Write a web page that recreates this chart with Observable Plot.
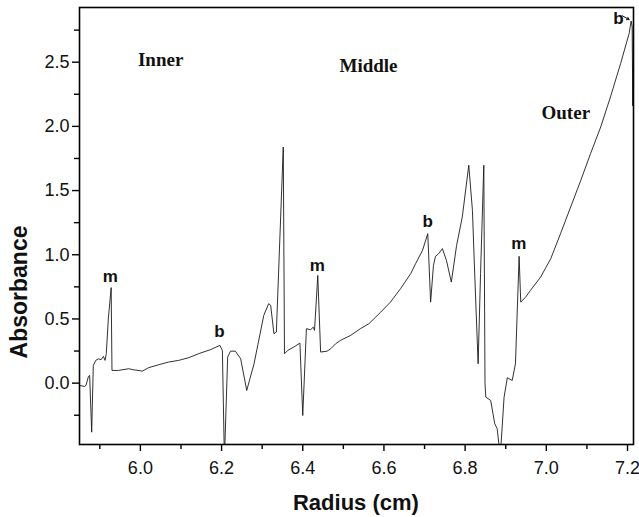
<!DOCTYPE html>
<html><head><meta charset="utf-8">
<script src="https://cdn.jsdelivr.net/npm/d3@7"></script>
<script src="https://cdn.jsdelivr.net/npm/@observablehq/plot@0.6"></script>
<style>body{margin:0;background:#fff}</style>
</head><body><div id="chart"></div>
<script>
// Radius (cm) and absorbance
const radius = [5.850,5.862,5.866,5.872,5.875,5.880,5.884,5.890,5.897,5.903,5.909,5.913,5.916,5.921,5.928,5.930,5.946,5.971,5.983,6.005,6.020,6.045,6.069,6.094,6.119,6.143,6.172,6.196,6.202,6.207,6.215,6.222,6.234,6.247,6.262,6.280,6.304,6.316,6.321,6.329,6.335,6.352,6.355,6.363,6.378,6.393,6.400,6.409,6.419,6.426,6.429,6.437,6.444,6.460,6.469,6.481,6.493,6.518,6.542,6.563,6.592,6.616,6.641,6.666,6.678,6.695,6.708,6.715,6.722,6.727,6.735,6.744,6.754,6.766,6.779,6.793,6.809,6.818,6.823,6.832,6.838,6.846,6.849,6.851,6.863,6.873,6.879,6.883,6.887,6.896,6.904,6.916,6.924,6.933,6.937,6.949,6.961,6.986,7.011,7.035,7.060,7.085,7.109,7.134,7.158,7.183,7.204,7.209,7.2115,7.213,7.2145,7.217];
const absorbance = [-0.018,-0.026,-0.018,0.052,0.060,-0.382,0.138,0.177,0.190,0.182,0.208,0.177,0.229,0.50,0.744,0.099,0.099,0.112,0.104,0.094,0.120,0.143,0.164,0.177,0.198,0.229,0.260,0.294,0.255,-0.60,0.203,0.249,0.249,0.190,-0.057,0.151,0.528,0.619,0.606,0.385,0.398,1.839,0.229,0.255,0.281,0.312,-0.252,0.424,0.416,0.436,0.411,0.839,0.242,0.249,0.268,0.307,0.333,0.372,0.424,0.463,0.553,0.631,0.736,0.853,0.931,1.034,1.164,0.631,0.917,0.988,1.009,1.048,0.956,0.787,1.073,1.294,1.697,1.346,0.904,0.151,0.853,1.697,-0.005,-0.109,-0.135,-0.316,-0.355,-0.472,-0.55,-0.109,0.042,0.021,0.151,0.988,0.631,0.670,0.723,0.826,0.970,1.164,1.372,1.580,1.788,1.995,2.229,2.489,2.723,2.821,2.775,2.160,2.520,2.550];

const regionLabels = ["Inner", "Middle", "Outer"];
const regionX = [6.050, 6.562, 7.048];
const regionY = [2.515, 2.468, 2.102];

const peakLabels = ["m", "b", "m", "b", "m", "b"];
const peakX = [5.926, 6.195, 6.436, 6.708, 6.932, 7.178];
const peakY = [0.832, 0.403, 0.917, 1.260, 1.089, 2.843];

const arrowFrom = [7.187, 2.862];
const arrowTo = [7.204, 2.832];

const xTicks = [6.0, 6.2, 6.4, 6.6, 6.8, 7.0, 7.2];
const xMinor = [5.9, 6.1, 6.3, 6.5, 6.7, 6.9, 7.1];
const yTicks = [0.0, 0.5, 1.0, 1.5, 2.0, 2.5];
const yMinor = [-0.25, 0.25, 0.75, 1.25, 1.75, 2.25, 2.75];
const xLabel = "Radius (cm)";
const yLabel = "Absorbance";
// axis-title anchor points, in data units
const xLabelPos = [6.531, -0.93];
const yLabelPos = [5.702, 0.71];

const trace = radius.map((x, i) => ({x, y: absorbance[i]}));
const regions = regionLabels.map((t, i) => ({t, x: regionX[i], y: regionY[i]}));
const peaks = peakLabels.map((t, i) => ({t, x: peakX[i], y: peakY[i]}));

const sans = "'Liberation Sans', Arial, sans-serif";
const serif = "'Liberation Serif', 'Times New Roman', serif";

const chart = Plot.plot({
  width: 639,
  height: 517,
  marginLeft: 79,
  marginRight: 6,
  marginTop: 7,
  marginBottom: 73,
  style: {background: "#fff", fontFamily: sans, color: "#111"},
  x: {domain: [5.85, 7.2148]},
  y: {domain: [-0.478, 2.926]},
  marks: [
    Plot.line(trace, {x: "x", y: "y", stroke: "#1a1a1a", strokeWidth: 0.9, clip: true}),
    Plot.frame({stroke: "#000", strokeWidth: 1.6}),
    Plot.axisX({ticks: xTicks, tickFormat: d3.format(".1f"), tickSize: 7, tickPadding: 10, fontSize: 18, label: null, stroke: "#000", strokeWidth: 1.4}),
    Plot.axisX({ticks: xMinor, tickSize: 5, text: null, label: null, stroke: "#000", strokeWidth: 1.4}),
    Plot.axisY({ticks: yTicks, tickFormat: d3.format(".1f"), tickSize: 7, tickPadding: 3, fontSize: 18, label: null, stroke: "#000", strokeWidth: 1.4}),
    Plot.axisY({ticks: yMinor, tickSize: 5, text: null, label: null, stroke: "#000", strokeWidth: 1.4}),
    Plot.text([yLabel], {x: () => yLabelPos[0], y: () => yLabelPos[1], text: d => d, rotate: -90, fontSize: 23, fontWeight: "bold", fontFamily: sans, fill: "#111"}),
    Plot.text([xLabel], {x: () => xLabelPos[0], y: () => xLabelPos[1], text: d => d, fontSize: 22, fontWeight: "bold", fontFamily: sans, fill: "#111"}),
    Plot.text(regions, {x: "x", y: "y", text: "t", fontSize: 19, fontWeight: "bold", fontFamily: serif, fill: "#111"}),
    Plot.text(peaks, {x: "x", y: "y", text: "t", fontSize: 17, fontWeight: "bold", fontFamily: sans, fill: "#111"}),
    Plot.arrow([{x1: arrowFrom[0], y1: arrowFrom[1], x2: arrowTo[0], y2: arrowTo[1]}], {x1: "x1", y1: "y1", x2: "x2", y2: "y2", stroke: "#111", strokeWidth: 1, headLength: 5})
  ]
});
document.getElementById("chart").appendChild(chart);
</script>
</body></html>
